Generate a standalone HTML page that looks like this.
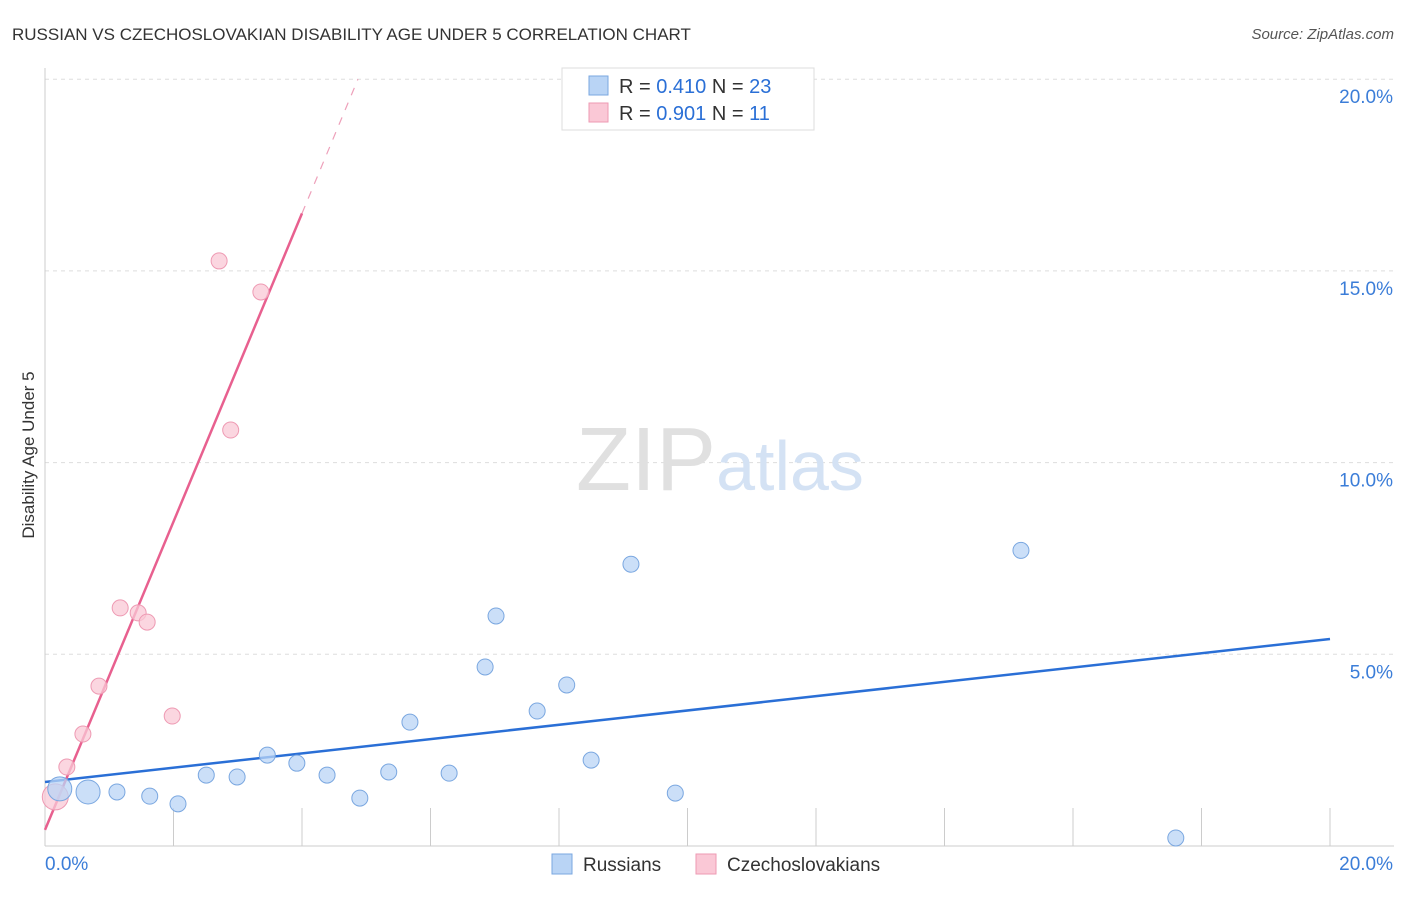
<!DOCTYPE html>
<html><head><meta charset="utf-8"><style>
body{margin:0;background:#fff;font-family:"Liberation Sans",sans-serif;}
svg text{font-family:"Liberation Sans",sans-serif;}
</style></head><body>
<svg id="chart" width="1406" height="892">
<text x="12" y="40" font-size="17" fill="#333">RUSSIAN VS CZECHOSLOVAKIAN DISABILITY AGE UNDER 5 CORRELATION CHART</text>
<text x="1394" y="39" font-size="15" fill="#555" text-anchor="end" font-style="italic">Source: ZipAtlas.com</text>
<g id="grid"></g>
<text x="720" y="490" font-size="90" fill="#ddd" text-anchor="middle" font-family="Liberation Serif"><tspan fill="#e0e0e0">ZIP</tspan><tspan fill="#d4e2f4" font-family="Liberation Sans" font-size="70">atlas</tspan></text>
<text transform="translate(34,455) rotate(-90)" font-size="17" fill="#333" text-anchor="middle">Disability Age Under 5</text>
<g id="lines"></g>
<g id="points"></g>
<g>
<rect x="562" y="68" width="252" height="62" fill="#fff" stroke="#ddd"/>
<rect x="589" y="76" width="19" height="19" fill="#b9d4f5" stroke="#7aa7e0"/>
<text x="619" y="93" font-size="20" fill="#333">R = <tspan fill="#2a6fd6">0.410</tspan>   N = <tspan fill="#2a6fd6">23</tspan></text>
<rect x="589" y="103" width="19" height="19" fill="#fac8d6" stroke="#ee9ab3"/>
<text x="619" y="120" font-size="20" fill="#333">R = <tspan fill="#2a6fd6">0.901</tspan>   N =  <tspan fill="#2a6fd6">11</tspan></text>
</g>
<g>
<rect x="552" y="854" width="20" height="20" fill="#b9d4f5" stroke="#7aa7e0"/>
<text x="583" y="871" font-size="19" fill="#333">Russians</text>
<rect x="696" y="854" width="20" height="20" fill="#fac8d6" stroke="#ee9ab3"/>
<text x="727" y="871" font-size="19" fill="#333">Czechoslovakians</text>
</g>
</svg>
<script>
const yTicks=[5,10,15,20];
const yTickLabels=["5.0%","10.0%","15.0%","20.0%"];
const xTicks=[0,2,4,6,8,10,12,14,16,18,20];
const russX=[0.23,0.67,1.12,1.63,2.07,2.51,2.99,3.46,3.92,4.39,4.90,5.35,5.68,6.29,6.85,7.02,7.66,8.12,8.50,9.12,9.81,15.19,17.60];
const russY=[1.49,1.41,1.41,1.30,1.10,1.85,1.80,2.37,2.16,1.85,1.25,1.93,3.23,1.90,4.67,6.00,3.52,4.20,2.24,7.35,1.38,7.71,0.21];
const czX=[0.16,0.34,0.59,0.84,1.17,1.45,1.59,1.98,2.71,2.89,3.36];
const czY=[1.28,2.06,2.92,4.17,6.21,6.08,5.84,3.39,15.26,10.85,14.45];
const russLine=[1.67,5.40];
const czLine=[0.42,4.02];
const X=v=>45+v*64.25, Y=v=>846-v*38.34;
const NS="http://www.w3.org/2000/svg";
function mk(t,a,p){const e=document.createElementNS(NS,t);for(const k in a)e.setAttribute(k,a[k]);p.appendChild(e);return e;}
const g=document.getElementById('grid');
yTicks.forEach((t,i)=>{
 const l=mk('line',{x1:45,x2:1394,y1:Y(t),y2:Y(t),stroke:'#ddd','stroke-dasharray':'4,4'},g);
 
 
 const tx=mk('text',{x:1393,y:Y(t)+24,'font-size':19,fill:'#3b7dd8','text-anchor':'end'},g);tx.textContent=yTickLabels[i];
 
 
});
const ax=mk('line',{x1:45,x2:1394,y1:846,y2:846,stroke:'#ccc'},g);


const ay=mk('line',{x1:45,x2:45,y1:68,y2:846,stroke:'#ccc'},g);


xTicks.forEach(t=>{const l=mk('line',{x1:X(t),x2:X(t),y1:808,y2:846,stroke:'#ccc'},g);
 
 });
[["0.0%",45,'start'],["20.0%",1393,'end']].forEach(a=>{const t=mk('text',{x:a[1],y:870,'font-size':19,fill:'#3b7dd8','text-anchor':a[2]},g);t.textContent=a[0];
 
 });
const L=document.getElementById('lines');
const bl=mk('line',{x1:X(0),y1:Y(russLine[0]),x2:X(20),y2:Y(russLine[1]),stroke:'#2a6fd6','stroke-width':2.5},L);


const xe=4.0, xd=(20-czLine[0])/czLine[1];
const pl=mk('line',{x1:X(0),y1:Y(czLine[0]),x2:X(xe),y2:Y(czLine[0]+czLine[1]*xe),stroke:'#e8608f','stroke-width':2.5},L);


const pd=mk('line',{x1:X(xe),y1:Y(czLine[0]+czLine[1]*xe),x2:X(xd),y2:Y(20),stroke:'#eea0ba','stroke-width':1.2,'stroke-dasharray':'8,8'},L);


const P=document.getElementById('points');
czX.forEach((x,i)=>{const c=mk('circle',{cx:X(x),cy:Y(czY[i]),r:i==0?13:8,fill:'#fac8d6','fill-opacity':0.75,stroke:'#ee9ab3'},P);
 
 });
russX.forEach((x,i)=>{const c=mk('circle',{cx:X(x),cy:Y(russY[i]),r:i<2?12:8,fill:'#b9d4f5','fill-opacity':0.75,stroke:'#7aa7e0'},P);
 
 });
</script>
</body></html>
